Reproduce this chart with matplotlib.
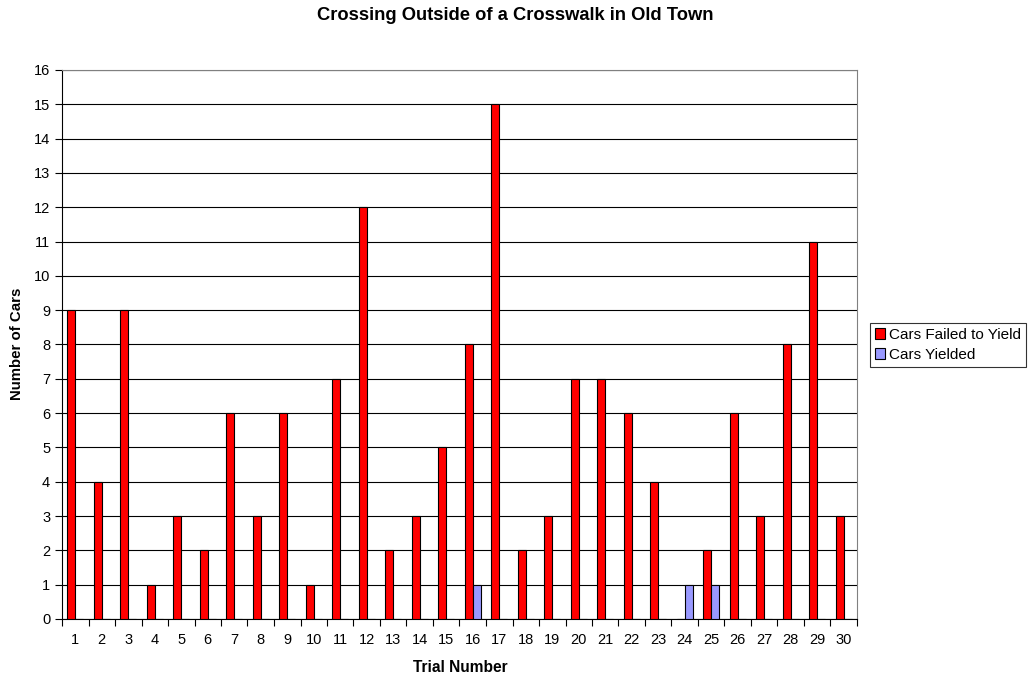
import numpy as np
import matplotlib.pyplot as plt
from matplotlib.ticker import FixedLocator, NullFormatter

plt.rcParams['font.family'] = ['Liberation Sans', 'DejaVu Sans']

trials = list(range(1, 31))
failed = [9, 4, 9, 1, 3, 2, 6, 3, 6, 1, 7, 12, 2, 3, 5,
          8, 15, 2, 3, 7, 7, 6, 4, 0, 2, 6, 3, 8, 11, 3]
yielded = [0, 0, 0, 0, 0, 0, 0, 0, 0, 0, 0, 0, 0, 0, 0,
           1, 0, 0, 0, 0, 0, 0, 0, 1, 1, 0, 0, 0, 0, 0]

W, H = 1030, 681
fig = plt.figure(figsize=(W / 100, H / 100), dpi=100)
ax = fig.add_axes([62 / W, 1 - 619 / H, 795 / W, 549 / H])

x = np.arange(len(trials))
w = 0.3
ax.bar(x - w / 2, failed, w, color='#ff0000', edgecolor='black', linewidth=0.8,
       label='Cars Failed to Yield', zorder=3)
ax.bar(x + w / 2, yielded, w, color='#9999ff', edgecolor='black', linewidth=0.8,
       label='Cars Yielded', zorder=3)

ax.set_xlim(-0.5, len(trials) - 0.5)
ax.set_ylim(0, 16)
ax.set_yticks(range(0, 17))
ax.yaxis.grid(True, color='black', linewidth=0.8, zorder=0)

ax.set_xticks(x)
ax.set_xticklabels([str(t) for t in trials])
ax.xaxis.set_minor_locator(FixedLocator(np.arange(-0.5, len(trials), 1.0)))
ax.xaxis.set_minor_formatter(NullFormatter())
ax.tick_params(axis='x', which='major', length=0, pad=10, labelsize=10.5)
ax.tick_params(axis='x', which='minor', length=5, width=0.8, direction='out')
ax.tick_params(axis='y', length=5, width=0.8, labelsize=10.5)

for side in ('top', 'right'):
    ax.spines[side].set_color('#808080')
for side in ('left', 'bottom'):
    ax.spines[side].set_color('black')

# title and axis labels placed in figure pixels
fig.text(515 / W, 1 - 15 / H, 'Crossing Outside of a Crosswalk in Old Town',
         fontsize=13.2, fontweight='bold', ha='center', va='center')
fig.text(460 / W, 1 - 667 / H, 'Trial Number', fontsize=11.2,
         fontweight='bold', ha='center', va='center')
fig.text(17 / W, 1 - 344 / H, 'Number of Cars', fontsize=10.8,
         fontweight='bold', ha='center', va='center', rotation=90)

leg = ax.legend(loc='center left', bbox_to_anchor=(870 / W, 1 - 345 / H),
                bbox_transform=fig.transFigure, fontsize=11,
                frameon=True, fancybox=False, edgecolor='black',
                handlelength=0.7, handleheight=0.7, handletextpad=0.25,
                borderpad=0.3, labelspacing=0.4, borderaxespad=0)
leg.get_frame().set_linewidth(0.8)

fig.savefig('out.png', dpi=100)
